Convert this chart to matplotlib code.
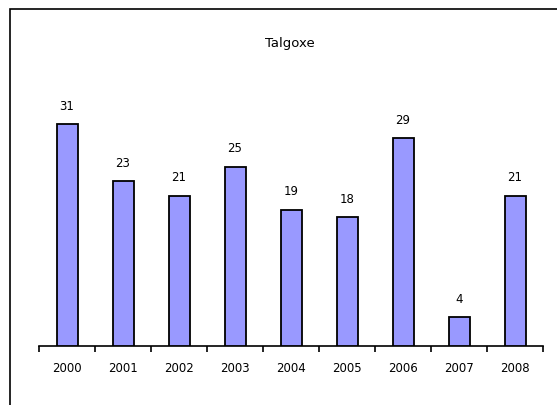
import numpy as np
import matplotlib
matplotlib.use("Agg")
import matplotlib.pyplot as plt
from matplotlib.patches import Rectangle

# Data
years = ["2000", "2001", "2002", "2003", "2004", "2005", "2006", "2007", "2008"]
counts = [31, 23, 21, 25, 19, 18, 29, 4, 21]
title = "Talgoxe"

W, H = 557, 406
plt.rcParams['font.family'] = ['DejaVu Sans']
fig = plt.figure(figsize=(W / 100, H / 100), dpi=100)

# outer chart border (clipped at right/bottom like the original)
fig.patches.append(Rectangle((10 / W, -0.1), 1.2, 1 - 10 / H + 0.1,
                             transform=fig.transFigure, fill=False,
                             edgecolor='black', linewidth=1.2))

# plot area in pixel coordinates
left, right, bottom, top = 39, 543, 347, 100
ax = fig.add_axes([left / W, 1 - bottom / H, (right - left) / W, (bottom - top) / H])

x = np.arange(len(years))
ax.bar(x, counts, width=0.375, color='#9999FF', edgecolor='black', linewidth=1.3, zorder=3)

for xi, v in zip(x, counts):
    ax.annotate(str(v), (xi, v), xytext=(0, 9), textcoords='offset points',
                ha='center', va='bottom', fontsize=8.5)

ax.set_xlim(-0.5, len(years) - 0.5)
ax.set_ylim(0, (bottom - top) / (222 / 31))

for s in ['left', 'top', 'right']:
    ax.spines[s].set_visible(False)
ax.spines['bottom'].set_linewidth(1.2)
ax.set_yticks([])

# tick marks at category boundaries, labels at centres
ax.set_xticks(np.arange(len(years) + 1) - 0.5)
ax.set_xticklabels([])
ax.tick_params(axis='x', which='major', direction='out', length=4, width=1.2)
ax.set_xticks(x, minor=True)
ax.set_xticklabels(years, minor=True, fontsize=8.5)
ax.tick_params(axis='x', which='minor', length=0, pad=11)

fig.text(290 / W, 1 - 44 / H, title, ha='center', va='center', fontsize=9.5)

fig.savefig("out.png", dpi=100)
